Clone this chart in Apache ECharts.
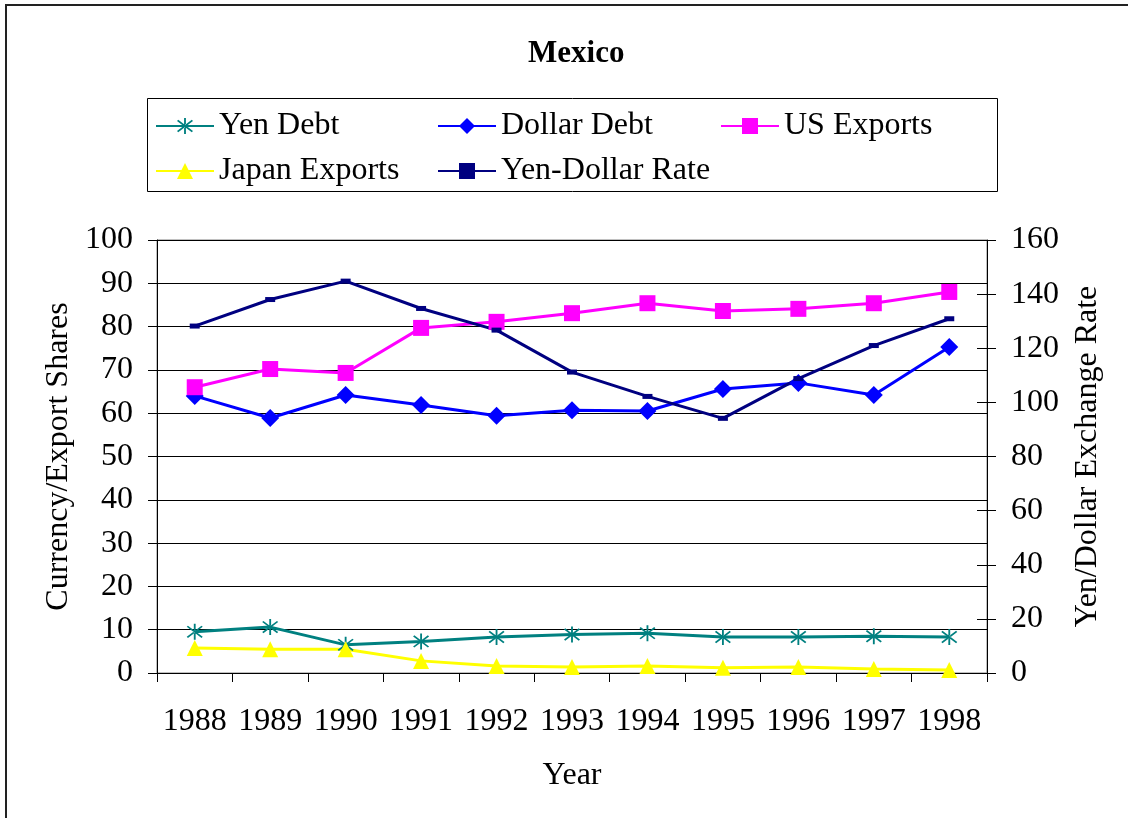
<!DOCTYPE html>
<html lang="en">
<head>
    <meta charset="UTF-8">
    <script src="https://cdn.jsdelivr.net/npm/echarts@6/dist/echarts.min.js"></script>
    <style>
        body {margin:0; background:#fff;}
        #main {width:1128px; height:818px;}
    </style>
    <title>Mexico</title>
</head>
<body>
    <div id="main"></div>
    <script>
        // data
        const years = ['1988','1989','1990','1991','1992','1993','1994','1995','1996','1997','1998'];
        const yenDebt = [9.5, 10.6, 6.5, 7.3, 8.3, 8.9, 9.2, 8.3, 8.3, 8.5, 8.3];
        const dollarDebt = [64.0, 58.9, 64.2, 61.9, 59.4, 60.7, 60.5, 65.6, 67.0, 64.2, 75.3];
        const usExports = [66.0, 70.2, 69.3, 79.7, 81.1, 83.1, 85.4, 83.6, 84.1, 85.4, 88.0];
        const japanExports = [5.8, 5.5, 5.5, 2.8, 1.6, 1.4, 1.6, 1.2, 1.4, 0.9, 0.7];
        const yenDollarRate = [128.2, 138.0, 144.8, 134.7, 126.7, 111.2, 102.2, 94.1, 108.8, 121.0, 130.9];

        const font = 'Liberation Serif';
        const asterisk = 'path://M9,0 L11,0 L11,20 L9,20 Z M1.34,3.75 L2.66,2.25 L18.66,16.25 L17.34,17.75 Z M1.34,16.25 L2.66,17.75 L18.66,3.75 L17.34,2.25 Z';

        let chart = echarts.init(document.getElementById('main'));

        function line(name, data, color, symbol, size, yAxisIndex) {
            return {
                name: name,
                type: 'line',
                yAxisIndex: yAxisIndex || 0,
                data: data,
                symbol: symbol,
                symbolSize: size,
                showAllSymbol: true,
                animation: false,
                lineStyle: {color: color, width: 3},
                itemStyle: {color: color, borderWidth: 0, opacity: 1}
            };
        }

        function legendCol(left, names) {
            return {
                orient: 'vertical',
                left: left,
                top: 110,
                padding: 0,
                itemWidth: 58,
                itemHeight: 20,
                itemGap: 13,
                selectedMode: false,
                data: names,
                textStyle: {fontFamily: font, fontSize: 32, color: '#000'}
            };
        }

        let options = {
            backgroundColor: '#fff',
            title: {
                text: 'Mexico',
                left: 523,
                top: 33,
                textStyle: {fontFamily: font, fontSize: 31, fontWeight: 'bold', color: '#000'}
            },
            legend: [
                legendCol(155, ['Yen Debt', 'Japan Exports']),
                legendCol(437, ['Dollar Debt', 'Yen-Dollar Rate']),
                legendCol(720, ['US Exports'])
            ],
            graphic: [
                {type: 'rect', shape: {x: 6, y: 5, width: 1130, height: 820}, style: {fill: 'none', stroke: '#222', lineWidth: 2}, silent: true},
                {type: 'rect', shape: {x: 147.5, y: 98.5, width: 850, height: 93}, style: {fill: 'none', stroke: '#000', lineWidth: 1}, silent: true}
            ],
            grid: {
                left: 157, right: 141, top: 240, bottom: 145,
                show: true, borderColor: '#808080', borderWidth: 1
            },
            xAxis: {
                type: 'category',
                data: years,
                boundaryGap: true,
                name: 'Year',
                nameLocation: 'middle',
                nameGap: 87,
                nameTextStyle: {fontFamily: font, fontSize: 32, color: '#000'},
                axisLine: {lineStyle: {color: '#000', width: 1}},
                axisTick: {show: true, length: 9, alignWithLabel: false, lineStyle: {color: '#000'}},
                axisLabel: {fontFamily: font, fontSize: 32, color: '#000', margin: 33, interval: 0}
            },
            yAxis: [
                {
                    type: 'value', min: 0, max: 100, interval: 10, position: 'left',
                    name: 'Currency/Export Shares',
                    nameLocation: 'middle',
                    nameGap: 82,
                    nameTextStyle: {fontFamily: font, fontSize: 32, color: '#000'},
                    axisLine: {show: true, lineStyle: {color: '#000'}},
                    axisTick: {show: true, length: 9, lineStyle: {color: '#000'}},
                    axisLabel: {fontFamily: font, fontSize: 32, color: '#000', margin: 24},
                    splitLine: {show: true, lineStyle: {color: '#000', width: 1}}
                },
                {
                    type: 'value', min: 0, max: 160, interval: 20, position: 'right',
                    name: 'Yen/Dollar Exchange Rate',
                    nameLocation: 'middle',
                    nameGap: 85,
                    nameRotate: 90,
                    nameTextStyle: {fontFamily: font, fontSize: 32, color: '#000'},
                    axisLine: {show: true, lineStyle: {color: '#000'}},
                    axisTick: {show: true, length: 9, lineStyle: {color: '#000'}},
                    axisLabel: {fontFamily: font, fontSize: 32, color: '#000', margin: 24},
                    splitLine: {show: false}
                },
                {
                    // inner half of the crossing ticks on the right axis
                    type: 'value', min: 0, max: 160, interval: 20, position: 'right',
                    axisLine: {show: false},
                    axisTick: {show: true, inside: true, length: 10, lineStyle: {color: '#000'}},
                    axisLabel: {show: false},
                    splitLine: {show: false}
                }
            ],
            series: [
                line('Yen Debt', yenDebt, '#008080', asterisk, 16),
                line('Dollar Debt', dollarDebt, '#0000ff', 'diamond', 18),
                line('US Exports', usExports, '#ff00ff', 'rect', 16),
                line('Japan Exports', japanExports, '#ffff00', 'triangle', 16),
                line('Yen-Dollar Rate', yenDollarRate, '#000080', 'rect', [10, 5], 1)
            ]
        };
        chart.setOption(options);
    </script>
</body>
</html>
